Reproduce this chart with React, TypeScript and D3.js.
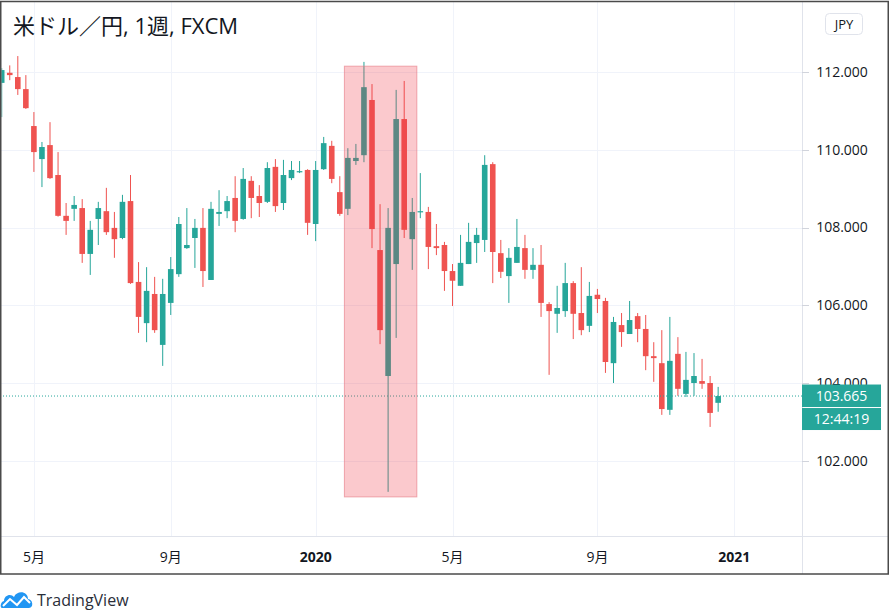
import React from 'react';
import * as d3 from 'd3';

// ---- data (weekly USD/JPY, FXCM) ----
const firstWeek = '2019-04-08';
const opens = [111.72,111.98,111.87,111.56,110.61,109.76,110.12,109.35,108.30,108.48,108.50,107.32,108.22,108.42,107.99,107.73,108.68,106.60,105.54,106.29,104.98,106.06,106.80,107.47,107.73,107.99,106.65,108.35,108.42,108.76,108.22,109.20,108.81,108.66,109.56,108.63,109.27,109.43,109.48,108.09,109.50,110.10,108.91,108.48,109.71,109.86,111.28,107.42,104.18,107.06,110.79,107.70,108.40,108.40,107.52,107.55,106.88,106.50,107.06,107.60,107.68,109.63,107.34,106.75,107.09,107.47,106.91,107.04,106.03,105.78,105.85,106.57,105.80,105.47,106.27,106.11,104.51,105.49,105.26,105.72,105.39,104.69,104.51,103.31,104.75,103.72,104.00,104.05,104.00,103.49];
const highs = [112.10,112.17,112.41,111.92,110.97,110.20,110.71,109.94,108.63,108.81,108.73,108.17,108.66,109.02,108.40,108.84,109.35,107.11,106.98,106.73,106.68,107.24,108.27,108.50,108.22,108.50,108.66,108.96,108.81,109.32,109.53,109.32,109.09,109.68,109.76,109.74,109.71,109.71,109.50,109.71,110.33,110.23,109.32,110.04,110.15,112.26,111.69,108.60,108.50,111.54,111.77,108.76,109.40,108.53,108.09,107.63,107.06,107.81,108.12,107.99,109.86,109.68,107.68,107.47,108.22,107.81,107.47,107.55,106.08,106.50,107.09,106.62,106.98,106.60,106.42,106.19,105.70,105.80,106.11,105.80,105.75,105.05,105.36,105.70,105.18,104.80,104.77,104.62,104.18,103.90];
const lows = [110.84,111.79,111.41,111.05,109.43,109.04,109.25,108.28,107.81,108.17,107.09,106.78,107.55,107.81,107.22,107.70,106.55,105.29,105.05,105.29,104.44,105.75,106.73,107.45,106.96,106.47,106.65,108.04,108.24,107.88,108.20,108.24,108.27,108.63,108.40,108.45,109.22,109.40,107.81,107.65,109.48,109.14,108.30,108.32,109.61,109.68,107.47,105.00,101.20,105.16,107.73,106.91,108.24,106.93,107.29,106.37,105.98,106.50,107.06,107.09,107.37,106.57,106.70,106.06,107.09,106.68,106.68,105.70,104.21,105.29,105.70,105.13,105.23,105.31,105.80,104.26,104.00,104.93,105.26,105.05,104.33,104.03,103.18,103.18,103.67,103.64,103.67,103.85,102.87,103.26];
const closes = [112.05,111.92,111.56,111.07,109.94,110.07,109.27,108.30,108.17,108.58,107.32,107.94,108.50,107.88,107.70,108.66,106.57,105.70,106.37,105.36,106.29,106.93,108.09,107.55,107.99,106.88,108.48,108.40,108.68,108.17,109.25,108.76,108.63,109.53,108.55,109.35,109.48,109.45,108.12,109.48,110.17,109.25,108.35,109.79,109.79,111.61,107.96,105.36,107.99,110.79,107.94,108.40,108.42,107.50,107.47,106.88,106.63,107.09,107.63,107.81,109.61,107.37,106.86,107.22,107.50,106.91,107.04,106.06,105.85,105.93,106.57,105.78,105.36,106.24,106.16,104.54,105.57,105.31,105.62,105.39,104.69,104.64,103.33,104.57,103.85,104.08,104.18,103.98,103.23,103.665];

const priceTicks = [102, 104, 106, 108, 110, 112];
const timeTickDates = ['2019-05-06', '2019-09-02', '2020-01-06', '2020-05-04', '2020-09-07', '2021-01-04'];
const timeTickLabels = ['5月', '9月', '2020', '5月', '9月', '2021'];
const timeTickBold = [false, false, true, false, false, true];
const highlightDates = ['2020-01-31', '2020-04-03'];
const highlightPrices = [112.15, 101.07];
const lastPrice = 103.665;
const countdown = '12:44:19';
const title = '米ドル／円, 1週, FXCM';
const currency = 'JPY';

const W = 892;
const H = 615;
const plotRight = 802;
const axisY = 536;
const UP = '#26a69a';
const DOWN = '#ef5350';
const TEXT = '#131722';
const FONT = '"Open Sans", "Noto Sans CJK JP", sans-serif';

export default function App() {
  const start = new Date(firstWeek + 'T00:00:00Z');
  const dates = opens.map((_, i) => d3.utcDay.offset(start, i * 7));
  const x = d3.scaleUtc()
    .domain([dates[0], dates[dates.length - 1]])
    .range([1.7, 1.7 + 8.05 * (dates.length - 1)]);
  const y = d3.scaleLinear().domain([102, 112]).range([460.75, 72]);
  const bodyW = 5.6;
  const fmt = d3.format('.3f');
  const parse = (s: string) => new Date(s + 'T00:00:00Z');

  const hx0 = x(parse(highlightDates[0]));
  const hx1 = x(parse(highlightDates[1]));
  const hy0 = y(highlightPrices[0]);
  const hy1 = y(highlightPrices[1]);
  const ly = y(lastPrice);

  return (
    <svg width={W} height={H} style={{ position: 'absolute', left: 0, top: 0, background: '#fff' }}
      fontFamily={FONT}>
      <defs>
        <clipPath id="plot">
          <rect x={1.5} y={2} width={plotRight - 1.5} height={axisY - 2} />
        </clipPath>
      </defs>
      <rect x={0} y={0} width={W} height={H} fill="#fff" />
      {/* grid */}
      <g stroke="#f0f3fa" strokeWidth={1}>
        {priceTicks.map((p) => (
          <line key={'h' + p} x1={0} x2={plotRight} y1={Math.round(y(p)) + 0.5} y2={Math.round(y(p)) + 0.5} />
        ))}
        {timeTickDates.map((d) => {
          const xx = Math.round(x(parse(d))) + 0.5;
          return <line key={'v' + d} x1={xx} x2={xx} y1={2} y2={axisY} />;
        })}
      </g>
      {/* candles */}
      <g clipPath="url(#plot)">
        {dates.map((d, i) => {
          const o = opens[i], c = closes[i], h = highs[i], l = lows[i];
          const col = c >= o ? UP : DOWN;
          const cx = x(d);
          const top = y(Math.max(o, c));
          const bot = y(Math.min(o, c));
          return (
            <g key={i} fill={col} stroke="none">
              <rect x={cx - 0.5} width={1} y={y(h)} height={Math.max(1, y(l) - y(h))} />
              <rect x={cx - bodyW / 2} width={bodyW} y={top} height={Math.max(1.2, bot - top)} />
            </g>
          );
        })}
        {/* last price dotted line */}
        <line x1={0} x2={plotRight} y1={ly} y2={ly} stroke={UP} strokeWidth={1} strokeDasharray="1,2" />
        {/* highlight box */}
        <rect x={hx0} y={hy0} width={hx1 - hx0} height={hy1 - hy0}
          fill="rgba(242,54,69,0.27)" stroke="rgba(230,120,130,0.6)" strokeWidth={1} />
      </g>
      {/* axes lines */}
      <line x1={0} x2={888} y1={axisY + 0.5} y2={axisY + 0.5} stroke="#e0e3eb" />
      <line x1={plotRight + 0.5} x2={plotRight + 0.5} y1={2} y2={574} stroke="#e0e3eb" />
      {/* price axis */}
      {priceTicks.map((p) => (
        <g key={'pl' + p}>
          <line x1={plotRight} x2={plotRight + 7} y1={Math.round(y(p)) + 0.5} y2={Math.round(y(p)) + 0.5} stroke="#d1d4dc" />
          <text x={842} y={y(p)} dy="0.35em" textAnchor="middle" fontSize={14} fill={TEXT}>{fmt(p)}</text>
        </g>
      ))}
      {/* last price badge (covers the 104.000 label as in TradingView) */}
      <rect x={plotRight} y={ly - 11.5} width={79} height={22.5} fill={UP} />
      <text x={841.5} y={ly} dy="0.36em" textAnchor="middle" fontSize={14} fill="#fff">{fmt(lastPrice)}</text>
      <rect x={plotRight} y={ly + 12} width={79} height={22} fill={UP} />
      <text x={841.5} y={ly + 23} dy="0.36em" textAnchor="middle" fontSize={14} fill="#fff">{countdown}</text>
      {/* time axis */}
      {timeTickDates.map((d, i) => (
        <text key={'tl' + d} x={x(parse(d))} y={557} dy="0.35em" textAnchor="middle" fontSize={14}
          fontWeight={timeTickBold[i] ? 700 : 400} fill={TEXT}>{timeTickLabels[i]}</text>
      ))}
      {/* title */}
      <text x={13} y={34} fontSize={22} fill={TEXT}>{title}</text>
      {/* currency button */}
      <rect x={825.5} y={13.5} width={37} height={21} rx={4} fill="#fff" stroke="#e0e3eb" />
      <text x={844} y={24} dy="0.35em" textAnchor="middle" fontSize={13} fill={TEXT}>{currency}</text>
      {/* frame */}
      <rect x={0.75} y={1.5} width={887.5} height={572.5} fill="none" stroke="#4a4a4a" strokeWidth={1.5} />
      {/* TradingView logo */}
      <g transform="translate(0,589)">
        <path d="M2,19 C0,19 0,13 4,12 C4,6 11,4 14,8 C17,1 28,2 28,10 C33,10 34,19 29,19 Z" fill="#2196f3" />
        <polyline points="3,17 10,10 17,16 24,8 30,14" fill="none" stroke="#fff" strokeWidth={2} />
        <text x={37} y={17} fontSize={16} fill="#2a2e39">TradingView</text>
      </g>
    </svg>
  );
}
